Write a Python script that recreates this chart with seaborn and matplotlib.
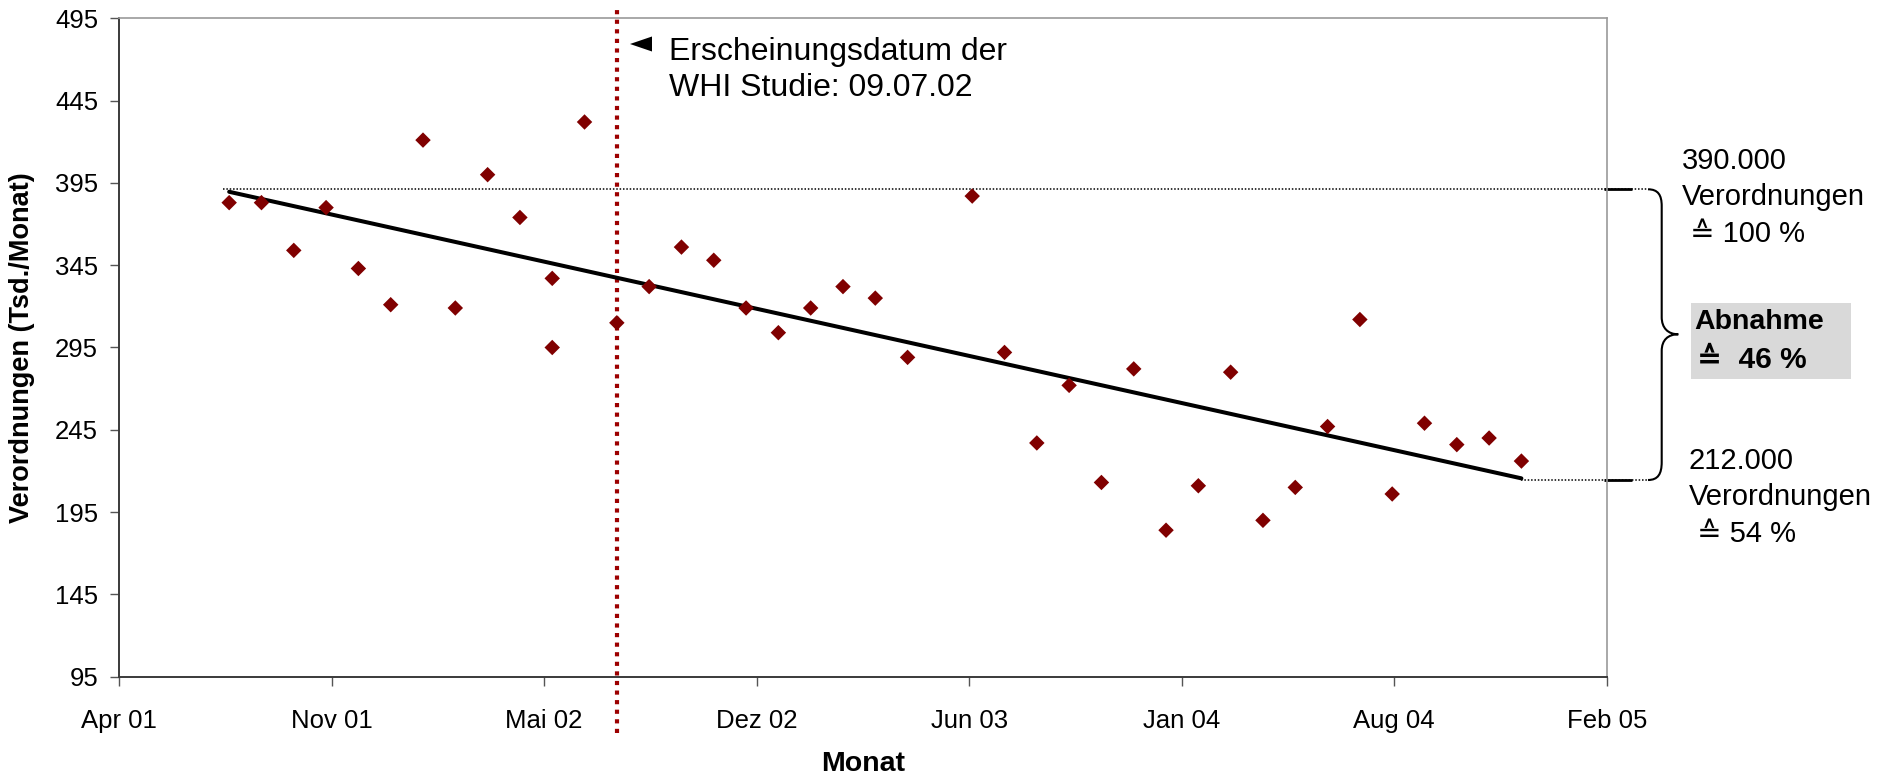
import matplotlib
matplotlib.use("Agg")
import matplotlib.pyplot as plt
import seaborn as sns
import pandas as pd
import numpy as np
from matplotlib.path import Path
from matplotlib.patches import PathPatch, Rectangle, Polygon

# ---------------- data ----------------
months = ["2001-07", "2001-08", "2001-09", "2001-10", "2001-11", "2001-12",
          "2002-01", "2002-02", "2002-03", "2002-04", "2002-05", "2002-05",
          "2002-06", "2002-07", "2002-08", "2002-09", "2002-10", "2002-11",
          "2002-12", "2003-01", "2003-02", "2003-03", "2003-04", "2003-06",
          "2003-07", "2003-08", "2003-09", "2003-10", "2003-11", "2003-12",
          "2004-01", "2004-02", "2004-03", "2004-04", "2004-05", "2004-06",
          "2004-07", "2004-08", "2004-09", "2004-10", "2004-11"]
values = [383, 383, 354, 380, 343, 321,
          421, 319, 400, 374, 337, 295,
          432, 310, 332, 356, 348, 319,
          304, 319, 332, 325, 289, 387,
          292, 237, 272, 213, 282, 184,
          211, 280, 190, 210, 247, 312,
          206, 249, 236, 240, 226]

trend_months = ["2001-07", "2004-11"]
trend_values = [389.6, 215.5]

whi_month = "2002-07"
ref_top_value = 391.1      # 390.000 Verordnungen
ref_bottom_value = 214.8   # 212.000 Verordnungen

x_tick_labels = ["Apr 01", "Nov 01", "Mai 02", "Dez 02", "Jun 03", "Jan 04", "Aug 04", "Feb 05"]
y_ticks = [95, 145, 195, 245, 295, 345, 395, 445, 495]


def month_index(s):
    y, m = map(int, s.split("-"))
    return (y - 2001) * 12 + (m - 7)


df = pd.DataFrame({"x": [month_index(m) for m in months], "v": values})
trend = pd.DataFrame({"x": [month_index(m) for m in trend_months], "v": trend_values})

# ---------------- figure ----------------
W, H = 1879, 776
sns.set_theme(style="white")
plt.rcParams["font.family"] = ["Liberation Sans", "DejaVu Sans"]
plt.rcParams["text.color"] = "black"
plt.rcParams["axes.labelcolor"] = "black"
plt.rcParams["xtick.color"] = "black"
plt.rcParams["ytick.color"] = "black"

fig = plt.figure(figsize=(W / 100, H / 100), dpi=100)
ax_l, ax_r, ax_t, ax_b = 119, 1606.7, 18.3, 676.7
ax = fig.add_axes([ax_l / W, 1 - ax_b / H, (ax_r - ax_l) / W, (ax_b - ax_t) / H])

x_min, x_max = -3.41, 42.64
ax.set_xlim(x_min, x_max)
ax.set_ylim(y_ticks[0], y_ticks[-1])

# reference dotted lines
ax.plot([-0.19, 43.93], [ref_top_value, ref_top_value], color="black", lw=1.1,
        ls=(0, (1, 1.2)), clip_on=False, zorder=1)
ax.plot([trend["x"].iloc[-1], 43.93], [ref_bottom_value, ref_bottom_value], color="black",
        lw=1.1, ls=(0, (1, 1.2)), clip_on=False, zorder=1)
for v in (ref_top_value, ref_bottom_value):
    ax.plot([42.57, 43.43], [v, v], color="black", lw=2.0, clip_on=False,
            solid_capstyle="butt", zorder=1)

# WHI publication line
wx = month_index(whi_month)
ax.axvline(wx, ymin=-0.0855, ymax=1.0132, color="#9c0000", lw=3.0,
           ls=(0, (1, 1.3)), dash_capstyle="butt", clip_on=False, zorder=2)

sns.lineplot(data=trend, x="x", y="v", color="black", lw=2.9, ax=ax, zorder=3)
sns.scatterplot(data=df, x="x", y="v", marker="D", s=62, color="#800000",
                edgecolor="none", linewidth=0, ax=ax, zorder=4)

# axes styling
for side in ("left", "bottom"):
    ax.spines[side].set_color("#3a3a3a")
    ax.spines[side].set_linewidth(1.4)
for side in ("top", "right"):
    ax.spines[side].set_color("#9a9a9a")
    ax.spines[side].set_linewidth(1.2)

ax.set_xticks(np.linspace(x_min, x_max, len(x_tick_labels)))
ax.set_xticklabels(x_tick_labels)
ax.set_yticks(y_ticks)
ax.tick_params(axis="both", direction="out", length=6.5, width=1.0, color="#555555",
               labelsize=18.5, labelcolor="black")
ax.tick_params(axis="x", pad=17, bottom=True)
ax.tick_params(axis="y", pad=8.5, left=True)

ax.set_xlabel("Monat", fontsize=20.5, fontweight="bold")
ax.xaxis.label.set_va("center")
ax.xaxis.set_label_coords(0.5, (ax_b - 764) / (ax_b - ax_t))
ax.set_ylabel("Verordnungen (Tsd./Monat)", fontsize=19.5, fontweight="bold")
ax.yaxis.label.set_va("center")
ax.yaxis.set_label_coords((22 - ax_l) / (ax_r - ax_l), 0.5)


def F(px, py):
    return (px / W, 1 - py / H)


# annotation at WHI line
fig.patches.append(Polygon([F(630, 44), F(652, 36.5), F(652, 51.5)], closed=True,
                           transform=fig.transFigure, facecolor="black", edgecolor="none"))
fig.text(*F(669, 37), "Erscheinungsdatum der\nWHI Studie: 09.07.02", fontsize=23,
         ha="left", va="top", linespacing=1.25)

# brace
verts = [(1648, 189.3),
         (1658, 189.3), (1661.7, 195), (1661.7, 206),
         (1661.7, 317),
         (1661.7, 328), (1668, 334.3), (1678.3, 334.3),
         (1668, 334.3), (1661.7, 340), (1661.7, 351),
         (1661.7, 462),
         (1661.7, 474), (1658, 480), (1648, 480)]
codes = [Path.MOVETO, Path.CURVE4, Path.CURVE4, Path.CURVE4, Path.LINETO,
         Path.CURVE4, Path.CURVE4, Path.CURVE4, Path.CURVE4, Path.CURVE4, Path.CURVE4,
         Path.LINETO, Path.CURVE4, Path.CURVE4, Path.CURVE4]
fig.patches.append(PathPatch(Path([F(*v) for v in verts], codes), transform=fig.transFigure,
                             facecolor="none", edgecolor="black", lw=1.5))

fig.text(*F(1682, 147), "390.000\nVerordnungen\n \u2259 100 %", fontsize=21,
         ha="left", va="top", linespacing=1.38)
fig.text(*F(1689, 447), "212.000\nVerordnungen\n \u2259 54 %", fontsize=21,
         ha="left", va="top", linespacing=1.38)

fig.patches.append(Rectangle(F(1691, 379.3), 160 / W, 76 / H, transform=fig.transFigure,
                             facecolor="#d9d9d9", edgecolor="none"))
fig.text(*F(1694, 309), "Abnahme", fontsize=20.5, fontweight="bold",
         ha="left", va="top")
fig.text(*F(1697, 346), "\u2259  46 %", fontsize=21.5, fontweight="bold",
         ha="left", va="top")

fig.savefig("out.png", dpi=100)
